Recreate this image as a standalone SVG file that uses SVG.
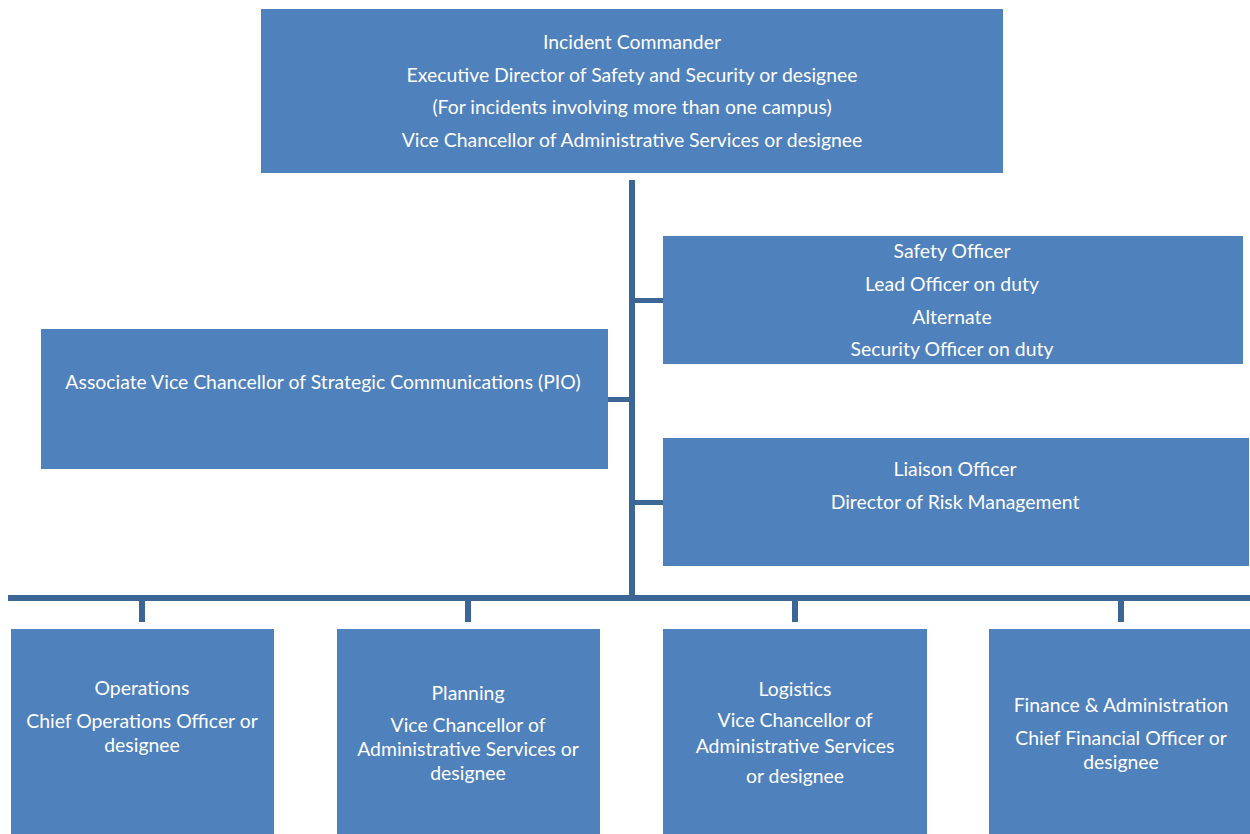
<svg xmlns="http://www.w3.org/2000/svg" width="1250" height="834" viewBox="0 0 1250 834">
<style>
.box{fill:#4F81BD}
.ln{fill:#3B6696}
text{font-family:Lato,"Open Sans","Liberation Sans",sans-serif;font-size:19.4px;fill:#FFFFFF;text-anchor:middle}
</style>
<rect width="1250" height="834" fill="#FFFFFF"/>
<g id="connectors">
<rect class="ln" x="629" y="180" width="6" height="421"/>
<rect class="ln" x="635" y="298" width="28" height="5"/>
<rect class="ln" x="608" y="397" width="21" height="5"/>
<rect class="ln" x="635" y="500" width="28" height="5"/>
<rect class="ln" x="8" y="595" width="1242" height="6"/>
<rect class="ln" x="139" y="601" width="6" height="21"/>
<rect class="ln" x="465" y="601" width="6" height="21"/>
<rect class="ln" x="792" y="601" width="6" height="21"/>
<rect class="ln" x="1118" y="601" width="6" height="21"/>
</g>
<g id="incident-commander">
<rect class="box" x="261" y="9" width="742" height="164"/>
<text x="632" y="49">Incident Commander</text>
<text x="632" y="82">Executive Director of Safety and Security or designee</text>
<text x="632" y="114">(For incidents involving more than one campus)</text>
<text x="632" y="147">Vice Chancellor of Administrative Services or designee</text>
</g>
<g id="safety-officer">
<rect class="box" x="663" y="236" width="580" height="128"/>
<text x="952" y="258">Safety Officer</text>
<text x="952" y="291">Lead Officer on duty</text>
<text x="952" y="324">Alternate</text>
<text x="952" y="356">Security Officer on duty</text>
</g>
<g id="pio">
<rect class="box" x="41" y="329" width="567" height="140"/>
<text x="323" y="389">Associate Vice Chancellor of Strategic Communications (PIO)</text>
</g>
<g id="liaison-officer">
<rect class="box" x="663" y="438" width="586" height="128"/>
<text x="955" y="476">Liaison Officer</text>
<text x="955" y="509">Director of Risk Management</text>
</g>
<g id="operations">
<rect class="box" x="11" y="629" width="263" height="205"/>
<text x="142" y="695">Operations</text>
<text x="142" y="728">Chief Operations Officer or</text>
<text x="142" y="752">designee</text>
</g>
<g id="planning">
<rect class="box" x="337" y="629" width="263" height="205"/>
<text x="468" y="700">Planning</text>
<text x="468" y="732">Vice Chancellor of</text>
<text x="468" y="756">Administrative Services or</text>
<text x="468" y="780">designee</text>
</g>
<g id="logistics">
<rect class="box" x="663" y="629" width="264" height="205"/>
<text x="795" y="696">Logistics</text>
<text x="795" y="727">Vice Chancellor of</text>
<text x="795" y="753">Administrative Services</text>
<text x="795" y="783">or designee</text>
</g>
<g id="finance-administration">
<rect class="box" x="989" y="629" width="261" height="205"/>
<text x="1121" y="712">Finance &amp; Administration</text>
<text x="1121" y="745">Chief Financial Officer or</text>
<text x="1121" y="769">designee</text>
</g>
</svg>
